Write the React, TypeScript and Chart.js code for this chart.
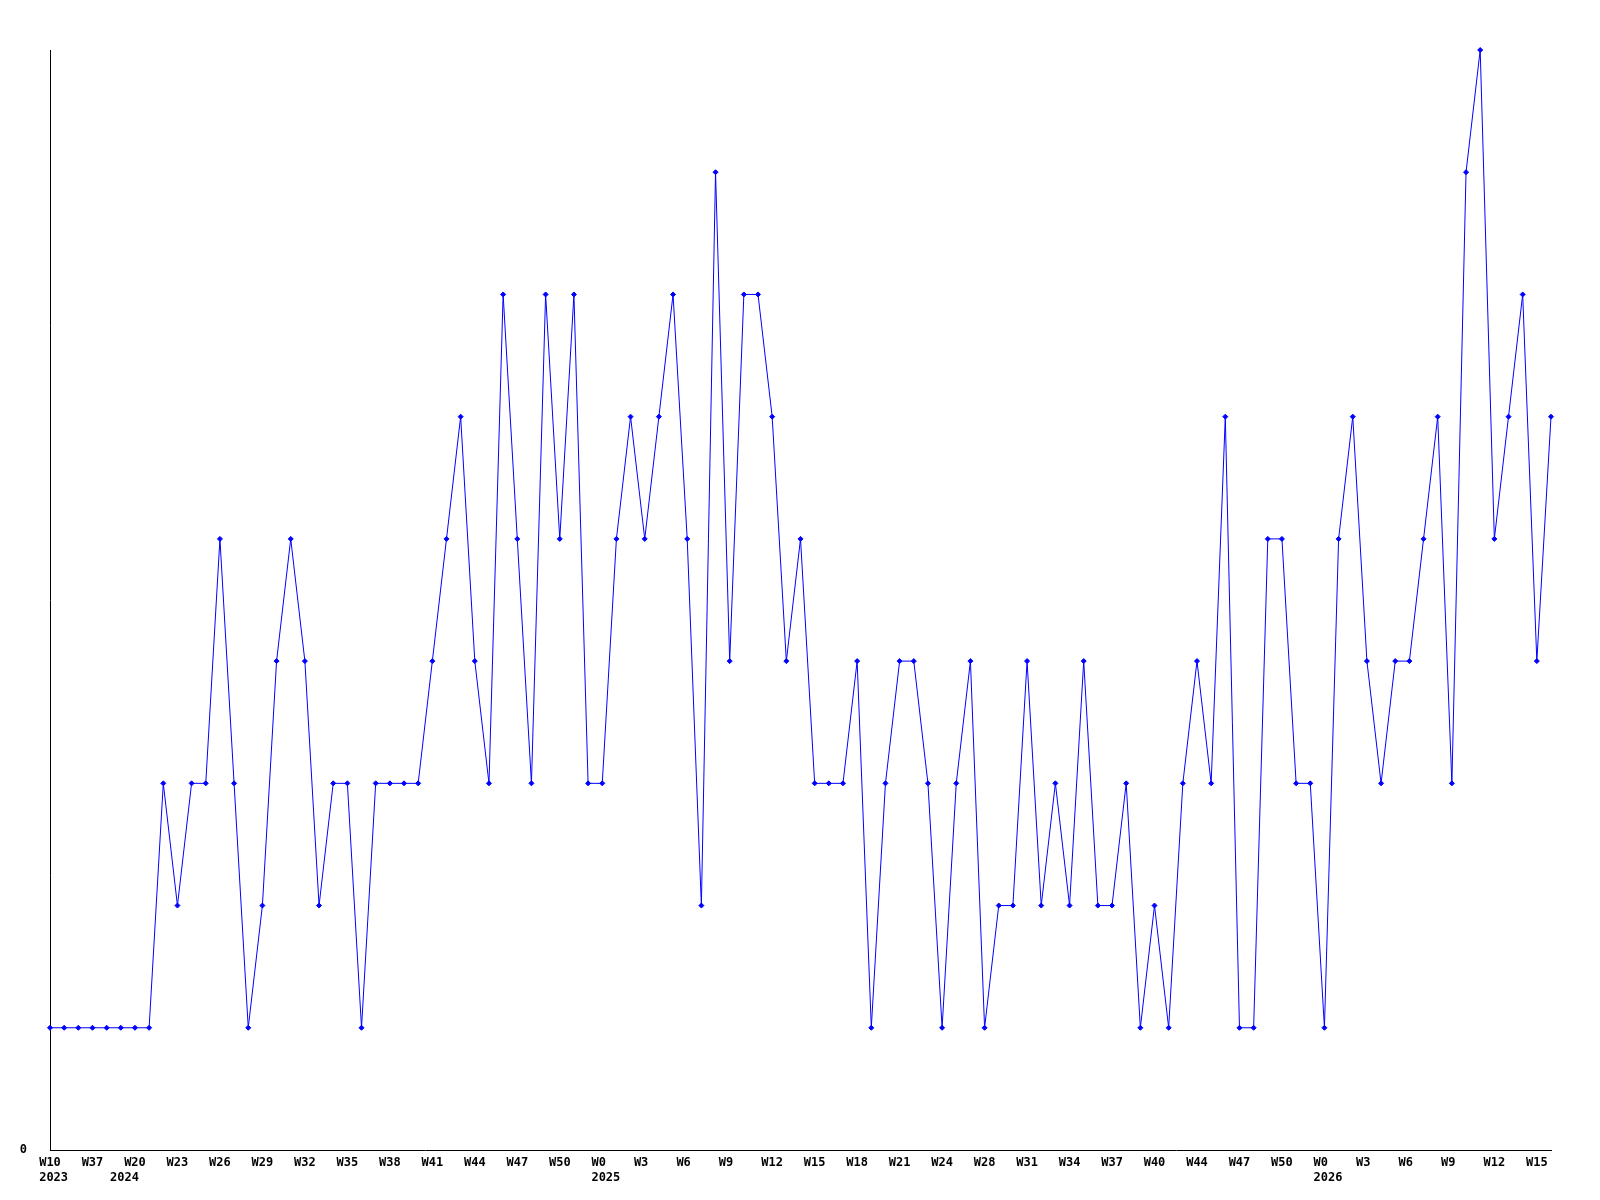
import { useEffect, useRef } from 'react';
import { Chart, registerables } from 'chart.js';

Chart.register(...registerables);

// weekly values (107 points)
const values = [
  1, 1, 1, 1, 1, 1, 1, 1, 3, 2,
  3, 3, 5, 3, 1, 2, 4, 5, 4, 2,
  3, 3, 1, 3, 3, 3, 3, 4, 5, 6,
  4, 3, 7, 5, 3, 7, 5, 7, 3, 3,
  5, 6, 5, 6, 7, 5, 2, 8, 4, 7,
  7, 6, 4, 5, 3, 3, 3, 4, 1, 3,
  4, 4, 3, 1, 3, 4, 1, 2, 2, 4,
  2, 3, 2, 4, 2, 2, 3, 1, 2, 1,
  3, 4, 3, 6, 1, 1, 5, 5, 3, 3,
  1, 5, 6, 4, 3, 4, 4, 5, 6, 3,
  8, 9, 5, 6, 7, 4, 6,
];

// week tick labels, one every 3 points
const weekTickLabels = [
  'W10', 'W37', 'W20', 'W23', 'W26', 'W29', 'W32', 'W35', 'W38', 'W41', 'W44', 'W47',
  'W50', 'W0', 'W3', 'W6', 'W9', 'W12', 'W15', 'W18', 'W21', 'W24', 'W28', 'W31',
  'W34', 'W37', 'W40', 'W44', 'W47', 'W50', 'W0', 'W3', 'W6', 'W9', 'W12', 'W15',
];
const weekTickStep = 3;

// year labels and the point index they sit under
const yearLabels = ['2023', '2024', '2025', '2026'];
const yearIndex = [0, 5, 39, 90];

const categories = values.map((_, i) => String(i));

export default function App() {
  const ref = useRef<HTMLCanvasElement | null>(null);

  useEffect(() => {
    if (!ref.current) return;
    const font = { family: "'DejaVu Sans Mono', monospace", size: 12, weight: 'bold' as const, lineHeight: 15 / 12 };
    const chart = new Chart(ref.current, {
      type: 'line',
      data: {
        labels: categories,
        datasets: [
          {
            data: values,
            borderColor: '#0000ff',
            backgroundColor: '#0000ff',
            borderWidth: 1,
            tension: 0,
            pointStyle: 'rectRot',
            pointRadius: 2.5,
            pointBorderWidth: 1,
            pointBackgroundColor: '#0000ff',
            pointBorderColor: '#0000ff',
            clip: false,
          } as any,
        ],
      },
      options: {
        animation: false,
        responsive: false,
        maintainAspectRatio: false,
        layout: { padding: { left: 0, right: 49, top: 50, bottom: 0 } },
        plugins: { legend: { display: false }, tooltip: { enabled: false } },
        scales: {
          x: {
            type: 'category',
            offset: false,
            grid: { display: false, drawTicks: false, tickLength: 0 },
            border: { display: true, color: '#000', width: 1 },
            afterFit: (s: any) => { s.height = 50; },
            ticks: {
              autoSkip: false,
              maxRotation: 0,
              minRotation: 0,
              padding: 5,
              color: '#000',
              font,
              callback: (_v: any, i: number) => {
                const lines: string[] = [];
                const w = i % weekTickStep === 0 ? weekTickLabels[i / weekTickStep] : undefined;
                const yi = yearIndex.indexOf(i);
                lines.push(w ? w.padEnd(3, ' ') : '');
                if (yi >= 0) lines.push(' ' + yearLabels[yi]);
                if (lines.length === 1 && lines[0] === '') return '';
                return lines.length === 1 ? lines[0] : lines;
              },
            },
          },
          y: {
            min: 0,
            max: 9,
            grid: { display: false, drawTicks: false, tickLength: 0 },
            border: { display: true, color: '#000', width: 1 },
            afterFit: (s: any) => { s.width = 50; },
            afterBuildTicks: (s: any) => { s.ticks = [{ value: 0 }]; },
            ticks: {
              padding: 23,
              color: '#000',
              font,
              callback: (v: any) => String(v),
            },
          },
        },
      },
    });
    return () => chart.destroy();
  }, []);

  return (
    <div style={{ position: 'fixed', left: 0, top: 0, width: 1600, height: 1200, background: '#fff' }}>
      <canvas ref={ref} width={1600} height={1200} style={{ display: 'block', width: 1600, height: 1200 }} />
    </div>
  );
}
